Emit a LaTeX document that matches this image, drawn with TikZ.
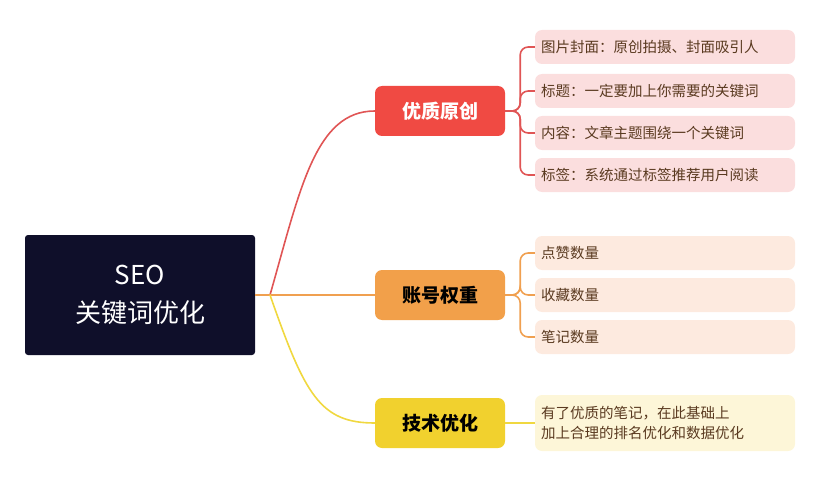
\documentclass[tikz,border=0pt]{standalone}
\usepackage{fontspec}
\setmainfont{Noto Sans CJK SC}
\usetikzlibrary{positioning}
\definecolor{navy}{HTML}{0F0F2A}
\definecolor{redmain}{HTML}{F04A43}
\definecolor{redleaf}{HTML}{FBDEDE}
\definecolor{redline}{HTML}{E05555}
\definecolor{orgmain}{HTML}{F2A04A}
\definecolor{orgleaf}{HTML}{FDEADF}
\definecolor{orgline}{HTML}{F0A050}
\definecolor{ylwmain}{HTML}{F1D12E}
\definecolor{ylwleaf}{HTML}{FDF6D8}
\definecolor{ylwline}{HTML}{F0D840}
\definecolor{leaftext}{HTML}{5A3A20}
\begin{document}
\begin{tikzpicture}[x=1pt,y=1pt]
    \tikzstyle{topic}=[rounded corners=7pt, minimum width=130pt, minimum height=50pt, font=\fontsize{19}{22}\selectfont\bfseries]
    \tikzstyle{leaf}=[rounded corners=7pt, minimum width=260pt, minimum height=34pt, text width=248pt, align=left, font=\fontsize{14.5}{20}\selectfont, text=leaftext]
    \tikzstyle{link}=[line width=1.6pt]
    \tikzstyle{bracket}=[line width=1.6pt, rounded corners=8pt]

    \useasboundingbox (0,0) rectangle (824,-500);
    \node[fill=navy, rounded corners=3pt, minimum width=230pt, minimum height=120pt, align=center, text=white, font=\fontsize{26}{38}\selectfont] (root) at (140,-295) {SEO\\关键词优化};
    \coordinate (fork) at (270,-295);

    \node[topic, fill=redmain, text=white] (quality) at (440,-111) {优质原创};
    \node[topic, fill=orgmain] (account) at (440,-295) {账号权重};
    \node[topic, fill=ylwmain] (tech) at (440,-423) {技术优化};

    \node[leaf, fill=redleaf] (cover) at (665,-47) {图片封面：原创拍摄、封面吸引人};
    \node[leaf, fill=redleaf] (title) at (665,-91) {标题：一定要加上你需要的关键词};
    \node[leaf, fill=redleaf] (content) at (665,-133) {内容：文章主题围绕一个关键词};
    \node[leaf, fill=redleaf] (tags) at (665,-175) {标签：系统通过标签推荐用户阅读};

    \node[leaf, fill=orgleaf] (likes) at (665,-253) {点赞数量};
    \node[leaf, fill=orgleaf] (saves) at (665,-295) {收藏数量};
    \node[leaf, fill=orgleaf] (notes) at (665,-337) {笔记数量};

    \node[leaf, fill=ylwleaf, minimum height=56pt] (ranking) at (665,-423) {有了优质的笔记，在此基础上\\加上合理的排名优化和数据优化};

    \draw[link, redline] (fork) .. controls (300,-190) and (315,-111) .. (quality.west);
    \draw[link, orgline] (root.east) -- (account.west);
    \draw[link, ylwline] (fork) .. controls (305,-395) and (320,-423) .. (tech.west);

    \foreach \n in {cover,title,content,tags}
        \draw[bracket, redline] (quality.east) -- ++(15,0) |- (\n.west);
    \foreach \n in {likes,saves,notes}
        \draw[bracket, orgline] (account.east) -- ++(15,0) |- (\n.west);
    \draw[link, ylwline] (tech.east) -- (ranking.west);
\end{tikzpicture}
\end{document}
